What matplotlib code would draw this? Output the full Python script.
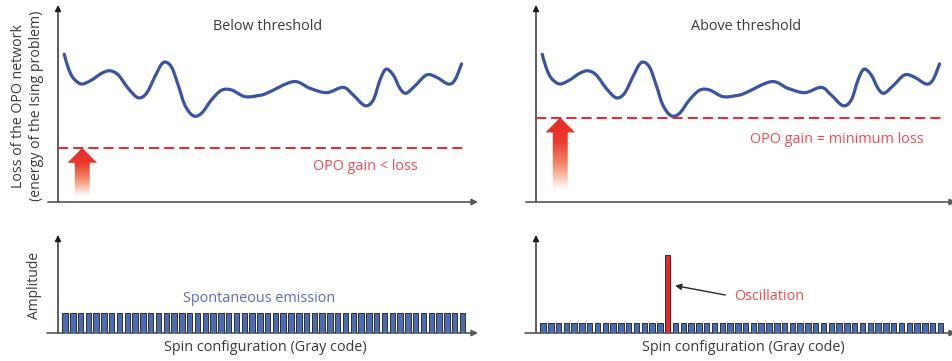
import numpy as np
import matplotlib
matplotlib.use("Agg")
import matplotlib.pyplot as plt
from matplotlib.patches import FancyArrow, PathPatch
from matplotlib.path import Path
from matplotlib.colors import LinearSegmentedColormap

plt.rcParams["font.family"] = ["Open Sans", "DejaVu Sans"]

# loss landscape over spin configurations (arbitrary units)
config_x = [-0.10, 0.42, 1.06, 2.12, 3.40, 4.69, 5.76, 6.83, 8.11, 9.39,
            10.46, 11.53, 12.38, 13.02, 13.75, 14.52, 15.38, 16.44, 17.51, 18.79,
            20.07, 21.35, 23.07, 24.78, 25.89, 29.30, 31.44, 33.58, 35.71, 36.99,
            38.49, 39.56, 40.42, 41.19, 42.12, 42.98, 43.75, 44.90, 46.40, 47.69,
            49.17, 50.03, 50.89]
loss = [7.50, 6.80, 6.29, 5.99, 6.19, 6.53, 6.66, 6.45, 5.77, 5.29,
        5.52, 6.36, 6.99, 7.09, 6.79, 5.94, 4.92, 4.38, 4.50, 5.18,
        5.67, 5.69, 5.35, 5.40, 5.52, 6.11, 5.77, 5.55, 5.82, 5.43,
        4.89, 5.18, 6.19, 6.74, 6.45, 5.77, 5.52, 5.89, 6.45, 6.33,
        5.99, 6.19, 7.01]

gain_below = 2.74
gain_above = 4.28

# amplitude of each spin configuration
n_configs = 52
amp_below = [1.0] * n_configs
amp_above = [0.5] * n_configs
amp_above[16] = 3.9
bar_colors_above = ["#4a6cb4"] * n_configs
bar_colors_above[16] = "#e8262b"

blue = "#3a53a4"
red = "#e8272a"
red_text = "#f04c57"
grey_text = "#3a3a3a"
fs = 10.4
xlim = (-0.9, 53.0)

fig = plt.figure(figsize=(9.53, 3.61), dpi=100)
W, H = 953.0, 361.0


def panel(x0, y_top, y_bottom, width=420):
    ax = fig.add_axes([x0 / W, (H - y_bottom) / H, width / W, (y_bottom - y_top) / H])
    ax.axis("off")
    ax.set_xlim(*xlim)
    return ax


def draw_axes(ax, x_start=-0.024):
    ax.annotate("", xy=(0, 1), xytext=(0, 0), xycoords="axes fraction",
                arrowprops=dict(arrowstyle="-|>", color="#1e1e1e", lw=1.0,
                                mutation_scale=9, shrinkA=0, shrinkB=0))
    ax.annotate("", xy=(1, 0), xytext=(x_start, 0), xycoords="axes fraction",
                arrowprops=dict(arrowstyle="-|>", color="#555555", lw=1.2,
                                mutation_scale=9, shrinkA=0, shrinkB=0))


def smooth_path(xs, ys):
    # Catmull-Rom curve through the points, drawn as cubic Bezier segments
    p = np.column_stack([xs, ys])
    p = np.vstack([p[0], p, p[-1]])
    verts = [p[1]]
    codes = [Path.MOVETO]
    for i in range(1, len(p) - 2):
        c1 = p[i] + (p[i + 1] - p[i - 1]) / 6
        c2 = p[i + 1] - (p[i + 2] - p[i]) / 6
        verts += [c1, c2, p[i + 1]]
        codes += [Path.CURVE4] * 3
    return Path(verts, codes)


cmap = LinearSegmentedColormap.from_list("pump", ["#ffffff", "#f3906f", "#ea3a2e", red])


def gradient_arrow(ax, x, y0, y1, shaft_w=1.92, head_w=3.8, head_len=0.75):
    arrow = FancyArrow(x, y0, 0, y1 - y0, width=shaft_w, head_width=head_w,
                       head_length=head_len, length_includes_head=True,
                       facecolor="none", edgecolor="none")
    ax.add_patch(arrow)
    grad = np.linspace(0, 1, 256).reshape(-1, 1)
    im = ax.imshow(grad, cmap=cmap, extent=[x - head_w / 2, x + head_w / 2, y0, y1],
                   origin="lower", aspect="auto", interpolation="bilinear", zorder=3)
    im.set_clip_path(arrow)


# top panels: loss landscape with OPO gain level
for x0, gain, base, title, label, lpos in [
        (58, gain_below, 0.3, "Below threshold", "OPO gain < loss", (38.6, 1.78)),
        (536, gain_above, 0.6, "Above threshold", "OPO gain = minimum loss", (37.7, 3.15))]:
    ax = panel(x0, 5, 202)
    ax.set_ylim(0, 10)
    draw_axes(ax)
    ax.add_patch(PathPatch(smooth_path(config_x, loss), facecolor="none", edgecolor=blue,
                           lw=2.3, capstyle="round", joinstyle="round", zorder=4))
    ax.plot([xlim[0], 51.2], [gain, gain], color=red, lw=1.4, dashes=(5.2, 2.6), zorder=4)
    gradient_arrow(ax, 2.21, base, gain)
    ax.set_xlim(*xlim)
    ax.set_ylim(0, 10)
    ax.text(26.0, 8.93, title, ha="center", va="center", fontsize=fs, color=grey_text)
    ax.text(lpos[0], lpos[1], label, ha="center", va="center", fontsize=fs, color=red_text)

ax_tl = fig.axes[0]
ax_tl.text(-0.0726, 0.487, "Loss of the OPO network\n(energy of the Ising problem)",
           transform=ax_tl.transAxes, rotation=90, ha="center", va="center",
           fontsize=10.2, color=grey_text, linespacing=1.35)

# bottom panels: amplitude per spin configuration
idx = np.arange(n_configs)
for x0, amp, colors in [(58, amp_below, ["#4a6cb4"] * n_configs),
                        (536, amp_above, bar_colors_above)]:
    ax = panel(x0, 235, 333)
    ax.set_ylim(0, 4.9)
    draw_axes(ax, x_start=-0.026)
    ax.bar(idx, amp, width=0.7, color=colors, edgecolor="#2e2e2e", linewidth=0.7, zorder=3)
    ax.text(0.493, -0.153, "Spin configuration (Gray code)", transform=ax.transAxes,
            ha="center", va="center", fontsize=fs, color=grey_text)
    ax.set_xlim(*xlim)
    ax.set_ylim(0, 4.9)
    if x0 == 58:
        ax.text(24.9, 1.75, "Spontaneous emission", ha="center", va="center",
                fontsize=fs, color="#5a6dbd")
        ax.text(-0.055, 0.49, "Amplitude", transform=ax.transAxes, rotation=90,
                ha="center", va="center", fontsize=10, color=grey_text)
    else:
        ax.text(29.0, 1.8, "Oscillation", ha="center", va="center",
                fontsize=fs, color=red_text)
        ax.annotate("", xy=(16.95, 2.37), xytext=(23.4, 1.9),
                    arrowprops=dict(arrowstyle="-|>", color="#2a2a2a", lw=1.0,
                                    mutation_scale=9, shrinkA=0, shrinkB=0))

fig.savefig("out.png", dpi=100)
